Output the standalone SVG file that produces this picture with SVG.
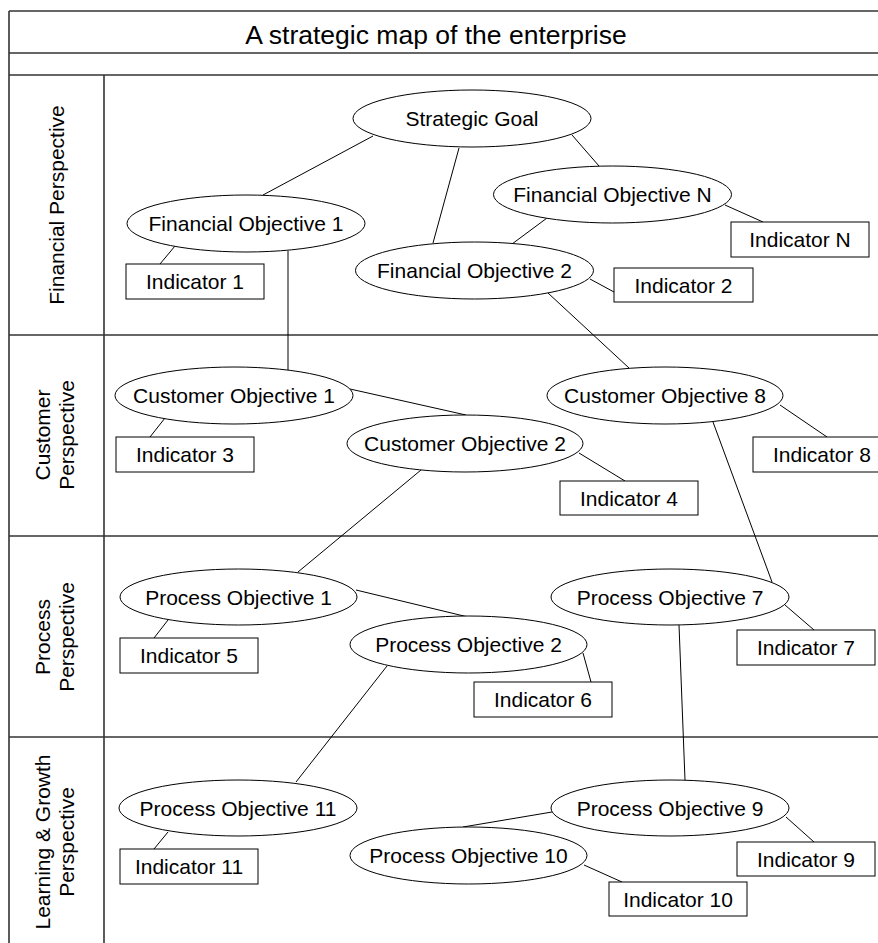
<svg xmlns="http://www.w3.org/2000/svg" width="878" height="943" viewBox="0 0 878 943">
<style>
.frame{stroke:#333;stroke-width:1.6;fill:none}
.el{fill:#fff;stroke:#000;stroke-width:1}
.bx{fill:#fff;stroke:#000;stroke-width:1}
.c line{stroke:#000;stroke-width:1}
.t{font-family:"Liberation Sans",Arial,sans-serif;font-size:21px;fill:#000;text-anchor:middle}
.lane{font-family:"Liberation Sans",Arial,sans-serif;font-size:21px;fill:#000;text-anchor:middle}
.title{font-family:"Liberation Sans",Arial,sans-serif;font-size:26.5px;fill:#000;text-anchor:middle}
</style>
<rect width="878" height="943" fill="#fff"/>
<g id="frame">
<line class="frame" x1="9" y1="11" x2="878" y2="11"/>
<line class="frame" x1="9" y1="53" x2="878" y2="53"/>
<line class="frame" x1="9" y1="75" x2="878" y2="75"/>
<line class="frame" x1="9" y1="335" x2="878" y2="335"/>
<line class="frame" x1="9" y1="536" x2="878" y2="536"/>
<line class="frame" x1="9" y1="737" x2="878" y2="737"/>
<line class="frame" x1="9" y1="11" x2="9" y2="943"/>
<line class="frame" x1="104" y1="75" x2="104" y2="943"/>
<text class="title" x="436" y="44">A strategic map of the enterprise</text>
<text class="lane" transform="translate(64,205) rotate(-90)">Financial Perspective</text>
<text class="lane" transform="translate(50,435) rotate(-90)">Customer</text>
<text class="lane" transform="translate(74,435) rotate(-90)">Perspective</text>
<text class="lane" transform="translate(50,637) rotate(-90)">Process</text>
<text class="lane" transform="translate(74,637) rotate(-90)">Perspective</text>
<text class="lane" transform="translate(50,842) rotate(-90)">Learning &amp; Growth</text>
<text class="lane" transform="translate(74,842) rotate(-90)">Perspective</text>
</g>
<g id="connectors" class="c">
<line x1="373" y1="136" x2="263" y2="195"/>
<line x1="459" y1="148" x2="433" y2="243"/>
<line x1="572" y1="135" x2="599" y2="166"/>
<line x1="725" y1="205" x2="763" y2="222"/>
<line x1="547" y1="218" x2="512" y2="244"/>
<line x1="175" y1="246" x2="160" y2="264"/>
<line x1="590" y1="279" x2="614" y2="292"/>
<line x1="288" y1="251" x2="288" y2="370"/>
<line x1="548" y1="293" x2="629" y2="368"/>
<line x1="165" y1="418" x2="150" y2="437"/>
<line x1="350" y1="389" x2="466" y2="415"/>
<line x1="579" y1="453" x2="625" y2="481"/>
<line x1="780" y1="405" x2="827" y2="437"/>
<line x1="421" y1="470" x2="298" y2="572"/>
<line x1="713" y1="422" x2="772" y2="582"/>
<line x1="168" y1="620" x2="154" y2="638"/>
<line x1="356" y1="590" x2="468" y2="617"/>
<line x1="583" y1="653" x2="591" y2="682"/>
<line x1="785" y1="605" x2="814" y2="630"/>
<line x1="387" y1="666" x2="296" y2="782"/>
<line x1="679" y1="625" x2="685" y2="780"/>
<line x1="168" y1="832" x2="154" y2="849"/>
<line x1="552" y1="812" x2="463" y2="827"/>
<line x1="584" y1="865" x2="622" y2="882"/>
<line x1="786" y1="817" x2="814" y2="842"/>
</g>
<g id="goal"><ellipse class="el" cx="472" cy="118.5" rx="119" ry="28.5"/><text class="t" x="472" y="126">Strategic Goal</text></g>
<g id="fo1"><ellipse class="el" cx="246" cy="223.5" rx="119" ry="28.5"/><text class="t" x="246" y="231">Financial Objective 1</text></g>
<g id="fon"><ellipse class="el" cx="612.5" cy="194.5" rx="119" ry="28.5"/><text class="t" x="612.5" y="202">Financial Objective N</text></g>
<g id="fo2"><ellipse class="el" cx="474.5" cy="270.5" rx="119" ry="28.5"/><text class="t" x="474.5" y="278">Financial Objective 2</text></g>
<g id="co1"><ellipse class="el" cx="234" cy="395.5" rx="119" ry="28.5"/><text class="t" x="234" y="403">Customer Objective 1</text></g>
<g id="co2"><ellipse class="el" cx="465" cy="443.5" rx="118" ry="28.5"/><text class="t" x="465" y="451">Customer Objective 2</text></g>
<g id="co8"><ellipse class="el" cx="665" cy="395.5" rx="118" ry="28.5"/><text class="t" x="665" y="403">Customer Objective 8</text></g>
<g id="po1"><ellipse class="el" cx="238.5" cy="597" rx="118.5" ry="28"/><text class="t" x="238.5" y="604.5">Process Objective 1</text></g>
<g id="po2"><ellipse class="el" cx="468.5" cy="644.5" rx="118.5" ry="28.5"/><text class="t" x="468.5" y="652">Process Objective 2</text></g>
<g id="po7"><ellipse class="el" cx="670" cy="597" rx="119" ry="28"/><text class="t" x="670" y="604.5">Process Objective 7</text></g>
<g id="po11"><ellipse class="el" cx="238" cy="808" rx="119" ry="28"/><text class="t" x="238" y="815.5">Process Objective 11</text></g>
<g id="po9"><ellipse class="el" cx="670" cy="808" rx="119" ry="28"/><text class="t" x="670" y="815.5">Process Objective 9</text></g>
<g id="po10"><ellipse class="el" cx="468.5" cy="855.5" rx="118.5" ry="28.5"/><text class="t" x="468.5" y="863">Process Objective 10</text></g>
<g id="ind1"><rect class="bx" x="126" y="264" width="138" height="35"/><text class="t" x="195" y="289">Indicator 1</text></g>
<g id="indN"><rect class="bx" x="731" y="222" width="138" height="35"/><text class="t" x="800" y="247">Indicator N</text></g>
<g id="ind2"><rect class="bx" x="614" y="268" width="139" height="34"/><text class="t" x="683.5" y="292.5">Indicator 2</text></g>
<g id="ind3"><rect class="bx" x="116" y="437" width="138" height="35"/><text class="t" x="185" y="462">Indicator 3</text></g>
<g id="ind4"><rect class="bx" x="560" y="481" width="138" height="34"/><text class="t" x="629" y="505.5">Indicator 4</text></g>
<g id="ind8"><rect class="bx" x="753" y="437" width="138" height="35"/><text class="t" x="822" y="462">Indicator 8</text></g>
<g id="ind5"><rect class="bx" x="120" y="638" width="138" height="35"/><text class="t" x="189" y="663">Indicator 5</text></g>
<g id="ind6"><rect class="bx" x="474" y="682" width="138" height="35"/><text class="t" x="543" y="707">Indicator 6</text></g>
<g id="ind7"><rect class="bx" x="737" y="630" width="138" height="35"/><text class="t" x="806" y="655">Indicator 7</text></g>
<g id="ind11"><rect class="bx" x="120" y="849" width="138" height="35"/><text class="t" x="189" y="874">Indicator 11</text></g>
<g id="ind9"><rect class="bx" x="737" y="842" width="138" height="34"/><text class="t" x="806" y="866.5">Indicator 9</text></g>
<g id="ind10"><rect class="bx" x="609" y="882" width="138" height="34"/><text class="t" x="678" y="906.5">Indicator 10</text></g>
</svg>
